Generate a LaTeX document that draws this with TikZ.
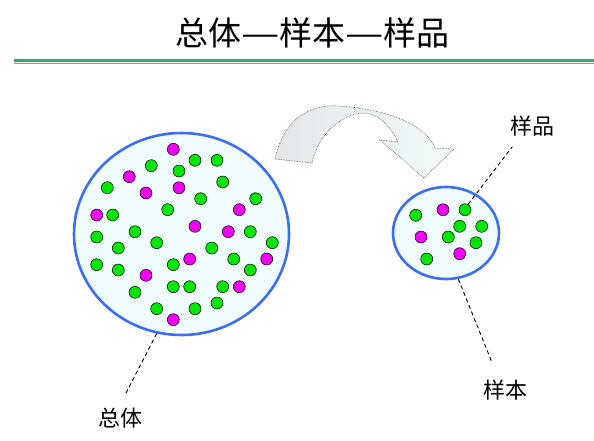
\documentclass[tikz,border=0pt]{standalone}
\usepackage{graphicx}
\usepackage{fontspec}
\newfontfamily\cjk{Noto Sans CJK SC}
\usetikzlibrary{shapes.geometric,calc}
\definecolor{rulegreen}{RGB}{60,160,110}
\definecolor{ringblue}{RGB}{60,110,240}
\definecolor{poolfill}{RGB}{240,252,252}
\definecolor{dotgreen}{RGB}{0,230,0}
\definecolor{dotmag}{RGB}{240,0,240}
\definecolor{arrowdark}{RGB}{226,230,232}
\definecolor{arrowlight}{RGB}{242,250,250}
\newcommand{\wdash}{\scalebox{1.3}[1]{—}}
\tikzset{
  pool/.style={ellipse, draw=ringblue, line width=2.6pt, fill=poolfill, inner sep=0pt},
  gdot/.style={circle, draw=black, line width=0.5pt, fill=dotgreen, minimum size=12pt, inner sep=0pt},
  mdot/.style={circle, draw=black, line width=0.5pt, fill=dotmag, minimum size=12pt, inner sep=0pt},
  lbl/.style={font=\cjk\fontsize{22}{22}\selectfont, inner sep=0pt},
  leader/.style={draw=black, line width=0.9pt, dash pattern=on 4pt off 3pt}
}
\begin{document}
\begin{tikzpicture}[x=1pt,y=-1pt]
\useasboundingbox (0,0) rectangle (594,440);
% title
\node[font=\cjk\fontsize{33}{33}\selectfont, inner sep=0pt] (title) at (312.5,33) {总体\wdash 样本\wdash 样品};
\coordinate (r1a) at (14,60.5);
\coordinate (r1b) at (594,60.5);
\coordinate (r2a) at (14,63.6);
\coordinate (r2b) at (594,63.6);
\draw[rulegreen, line width=2.6pt] (r1a) -- (r1b);
\draw[rulegreen!80!white, line width=1pt] (r2a) -- (r2b);
% curved arrow
\path[left color=arrowdark, right color=arrowlight, draw=gray!60!black, line width=0.6pt, densely dotted]
  (275,159) .. controls (285,112) and (318,104) .. (340,106)
  .. controls (392,110) and (426,126) .. (435,148)
  -- (454,149) -- (424,178) -- (380,140) -- (398,142)
  .. controls (388,122) and (376,113) .. (362,113)
  .. controls (340,115) and (318,135) .. (312,163) -- cycle;
% population
\node[pool, minimum width=215pt, minimum height=202pt] (pop) at (181.5,234) {};
\foreach \x/\y/\s [count=\i] in {
173.3/149.3/mdot, 195/160.3/gdot, 217/160.3/gdot, 151.3/165.7/gdot, 179/171/gdot,
129.3/176.7/mdot, 222.7/182/gdot, 107.3/187.7/gdot, 179/187.7/mdot, 146/193/mdot,
200.7/198.7/gdot, 255.7/198.7/gdot, 167.7/209.7/gdot, 239.3/209.7/mdot, 96.7/215/mdot,
112.7/215/gdot, 195/226.3/mdot, 135/231.7/gdot, 228.3/231.7/mdot, 250.3/231.7/gdot,
96.7/237/gdot, 156.7/242.7/gdot, 272.3/242.7/gdot, 118.3/248/gdot, 211.7/248/gdot,
189.7/259/mdot, 233.7/259/gdot, 266.7/259/mdot, 96.7/264.7/gdot, 173.3/264.7/gdot,
118.3/270/gdot, 250.3/270/gdot, 146/275.3/mdot, 173.3/286.7/gdot, 189.7/286.7/gdot,
222.7/286.7/gdot, 239.3/286.7/mdot, 135/292.3/gdot, 217/303/gdot, 156.7/308.7/gdot,
195/308.7/gdot, 173.3/319.7/mdot}
  \node[\s] (p\i) at (\x,\y) {};
% sample
\node[pool, minimum width=106pt, minimum height=92pt] (samp) at (446,233) {};
\node[gdot] (s1) at (415.7,215.3) {};
\node[mdot] (s2) at (443,209.7) {};
\node[gdot] (s3) at (465,209.7) {};
\node[gdot] (s4) at (459.7,226.3) {};
\node[gdot] (s5) at (481.7,226.3) {};
\node[mdot] (s6) at (421,237) {};
\node[gdot] (s7) at (448.3,237) {};
\node[gdot] (s8) at (476,242.7) {};
\node[mdot] (s9) at (459.7,253.7) {};
\node[gdot] (s10) at (426.7,259) {};
% labels
\node[lbl] (zt) at (120.5,418) {总体};
\node[lbl] (yb) at (505,390) {样本};
\node[lbl] (yp) at (532,126) {样品};
\coordinate (ztend) at (125,395);
\coordinate (ybend) at (491.7,361.7);
\coordinate (ypend) at (512.3,146.7);
\draw[leader] (pop.256) -- (ztend);
\draw[leader] (samp.285) -- (ybend);
\draw[leader] (s3.60) -- (ypend);
\end{tikzpicture}
\end{document}
